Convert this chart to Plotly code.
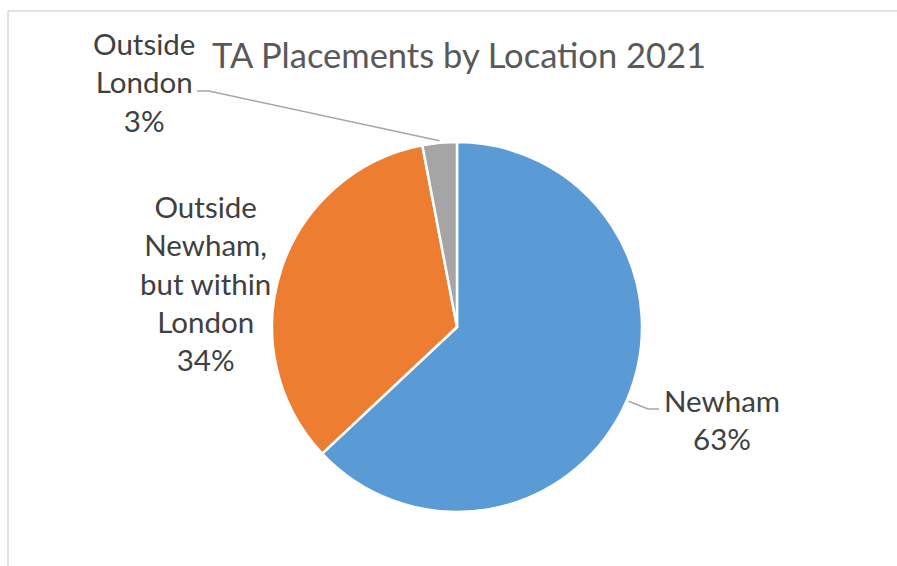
import math
import plotly.graph_objects as go

# data
locations = ["Newham", "Outside Newham, but within London", "Outside London"]
shares = [63, 34, 3]
colours = ["#5B9BD5", "#ED7D31", "#A5A5A5"]
label_text = ["Newham<br>63%", "Outside<br>Newham,<br>but within<br>London<br>34%", "Outside<br>London<br>3%"]

W, H = 897, 566
# pie geometry in pixels
cx, cy, r = 457, 327, 185

def px(x):
    return x / W

def py(y):
    return 1 - y / H

fig = go.Figure(go.Pie(
    labels=locations,
    values=shares,
    sort=False,
    direction="clockwise",
    rotation=0,
    marker=dict(colors=colours, line=dict(color="white", width=2.5)),
    textinfo="none",
    hoverinfo="skip",
    showlegend=False,
    domain=dict(x=[px(cx - r), px(cx + r)], y=[py(cy + r), py(cy - r)]),
))

# label positions (pixel centres) and leader-line elbow/end points
label_pos = [(722, 419), (205, 283), (144, 82)]
leaders = {0: [(648, 409), (659, 409)], 2: [(209, 91), (197, 91)]}

annotations = []
shapes = []
cum = 0
for i, v in enumerate(shares):
    mid = (cum + v / 2) / sum(shares) * 2 * math.pi
    cum += v
    lx, ly = label_pos[i]
    annotations.append(dict(
        x=px(lx), y=py(ly), xref="paper", yref="paper", text=label_text[i],
        showarrow=False, align="center", xanchor="center", yanchor="middle",
        font=dict(family="Lato, Open Sans, sans-serif", size=29.5, color="#404040"),
    ))
    if i in leaders:
        ex = cx + (r + 2) * math.sin(mid)
        ey = cy - (r + 2) * math.cos(mid)
        pts = [(ex, ey)] + leaders[i]
        path = "M " + " L ".join(f"{px(a)},{py(b)}" for a, b in pts)
        shapes.append(dict(type="path", path=path, xref="paper", yref="paper",
                           line=dict(color="#A6A6A6", width=1.5)))

# chart border (top and left edges visible)
shapes.append(dict(type="line", xref="paper", yref="paper", x0=px(8), x1=1, y0=py(11), y1=py(11),
                   line=dict(color="#D9D9D9", width=1.5)))
shapes.append(dict(type="line", xref="paper", yref="paper", x0=px(8), x1=px(8), y0=py(11), y1=0,
                   line=dict(color="#D9D9D9", width=1.5)))

annotations.append(dict(
    x=px(459), y=py(54), xref="paper", yref="paper", text="TA Placements by Location 2021",
    showarrow=False, xanchor="center", yanchor="middle",
    font=dict(family="Lato, Open Sans, sans-serif", size=34.5, color="#595959"),
))

fig.update_layout(
    width=W, height=H,
    margin=dict(l=0, r=0, t=0, b=0),
    paper_bgcolor="white",
    plot_bgcolor="white",
    annotations=annotations,
    shapes=shapes,
)

# drop the browser's default body margin so the figure sits at the page corner
fig.write_html("out.html", config={"displayModeBar": False},
               post_script="document.body.style.margin='0';")
